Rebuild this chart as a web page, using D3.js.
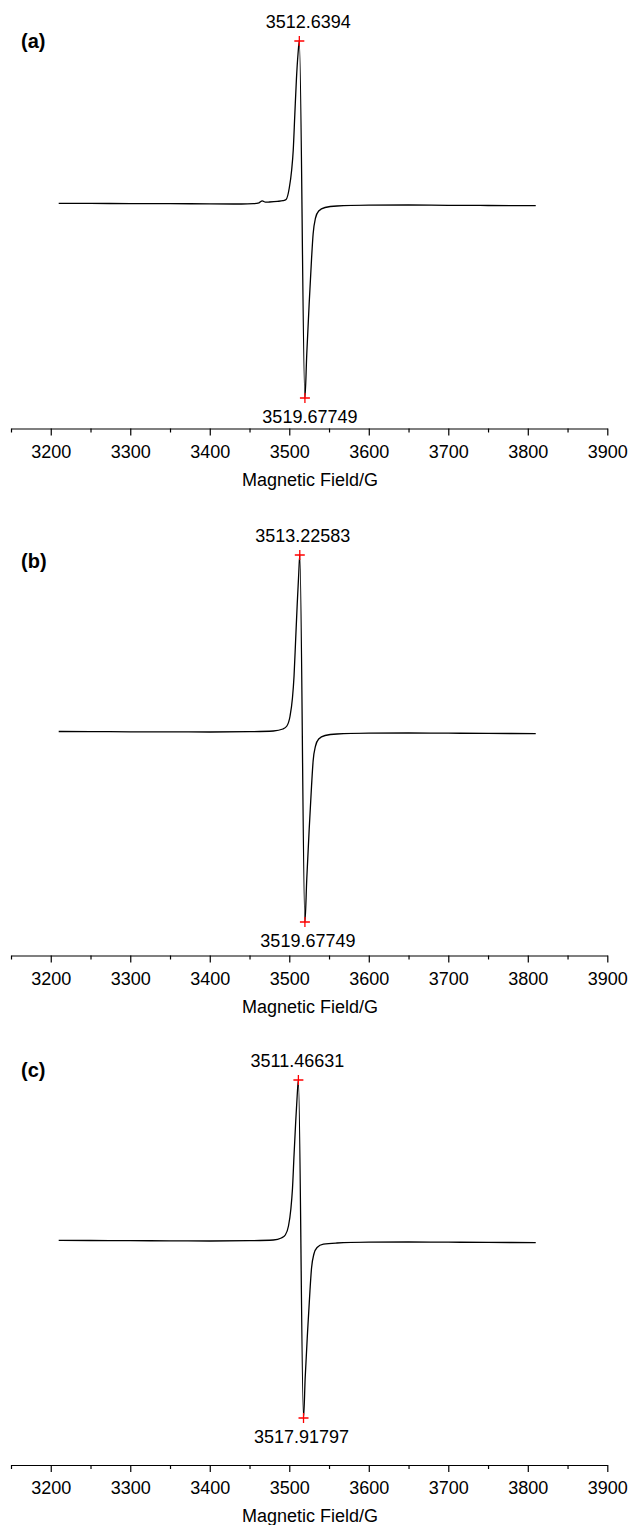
<!DOCTYPE html>
<html>
<head>
<meta charset="utf-8">
<script src="https://cdn.jsdelivr.net/npm/d3@7"></script>
<style>
  body { margin: 0; background: #fff; }
  svg text { font-family: "Liberation Sans", Arial, sans-serif; fill: #000; }
</style>
</head>
<body>
<svg id="chart"></svg>
<script>
// Declaring all constants
const svgWidth = 630,
    svgHeight = 1525;

const majorTicks = [3200, 3300, 3400, 3500, 3600, 3700, 3800, 3900];
const minorTicks = [3150, 3250, 3350, 3450, 3550, 3650, 3750, 3850];
const xLabel = "Magnetic Field/G";

// spectrum (a): field in G, signal in a.u. (baseline ~0)
const fieldA  = [3210, 3250, 3300, 3350, 3400, 3440, 3455, 3462, 3466, 3470, 3475, 3485, 3492, 3496, 3500, 3503, 3505, 3507, 3509, 3511, 3512.6394,
                 3519.67749, 3522, 3525, 3528, 3530, 3533, 3537, 3545, 3560, 3600, 3650, 3700, 3750, 3810];
const signalA = [0.7, 0.6, 0.4, 0.3, 0.2, 0.0, 0.3, 1.2, 3.2, 1.8, 2.0, 2.6, 3.3, 4.5, 16, 34, 54, 90, 125, 150, 163,
                 -194, -150, -100, -55, -30, -14, -7, -3.5, -2, -1.2, -1.0, -1.3, -1.5, -1.7];

// spectrum (b)
const fieldB  = [3210, 3250, 3300, 3350, 3400, 3450, 3480, 3492, 3497, 3501, 3504, 3506, 3508, 3510, 3512, 3513.22583,
                 3519.67749, 3522, 3525, 3528, 3530, 3533, 3537, 3545, 3560, 3600, 3650, 3700, 3750, 3810];
const signalB = [0.5, 0.4, 0.2, 0.1, 0.0, 0.3, 1.0, 3.0, 6, 16, 34, 56, 92, 128, 160, 177,
                 -190, -147, -98, -54, -29, -14, -7, -3.5, -2, -1.2, -1.0, -1.2, -1.4, -1.6];

// spectrum (c)
const fieldC  = [3210, 3250, 3300, 3350, 3400, 3450, 3480, 3490, 3495, 3499, 3502, 3504, 3506, 3508, 3510, 3511.46631,
                 3517.91797, 3520, 3523, 3526, 3528, 3531, 3535, 3543, 3560, 3600, 3650, 3700, 3750, 3810];
const signalC = [0.6, 0.5, 0.3, 0.2, 0.0, 0.3, 1.0, 3.0, 6, 15, 32, 52, 86, 118, 146, 161,
                 -177, -137, -91, -50, -27, -13, -6.5, -3.2, -2, -1.2, -1.0, -1.2, -1.4, -1.6];

const panelNames = ["(a)", "(b)", "(c)"];
const peakFields  = [[3512.6394, 3519.67749], [3513.22583, 3519.67749], [3511.46631, 3517.91797]];
const peakLabels  = [["3512.6394", "3519.67749"], ["3513.22583", "3519.67749"], ["3511.46631", "3517.91797"]];

// layout of each graph (pixels, page coords)
const panels = [
    {field: fieldA, signal: signalA, axisY: 428.5, letterY: 48, yDomain: [-194, 163], yRange: [398, 41], labelDx: [9, 5]},
    {field: fieldB, signal: signalB, axisY: 955.5, letterY: 568, yDomain: [-190, 177], yRange: [922, 555], labelDx: [3, 3]},
    {field: fieldC, signal: signalC, axisY: 1465, letterY: 1077, yDomain: [-177, 161], yRange: [1418, 1080], labelDx: [-1, -2]}
];

const chart = d3.select('#chart')
    .attr("width", svgWidth)
    .attr("height", svgHeight);

var xScale = d3.scaleLinear().domain([3150, 3900]).range([11, 607.3]);

panels.forEach(function(p, i){
    var yScale = d3.scaleLinear().domain(p.yDomain).range(p.yRange);
    var g = chart.append("g").attr("class", "panel");

    // bottom axis, major + minor ticks
    var xAxis = d3.axisBottom(xScale).tickValues(majorTicks).tickFormat(d3.format("d"))
        .tickSize(7).tickSizeOuter(0).tickPadding(0);
    var minorAxis = d3.axisBottom(xScale).tickValues(minorTicks).tickSize(4).tickSizeOuter(0).tickFormat("");

    var ax = g.append("g").attr("transform", "translate(0," + p.axisY + ")").call(xAxis);
    ax.selectAll("text").style("font-size", "18px").attr("y", 29).attr("dy", null);
    ax.selectAll("path, line").attr("stroke", "#000").attr("stroke-width", 1.2);
    var mx = g.append("g").attr("transform", "translate(0," + p.axisY + ")").call(minorAxis);
    mx.select(".domain").remove();
    mx.selectAll("line").attr("stroke", "#000").attr("stroke-width", 1.2);

    g.append("text")
        .attr("x", 310)
        .attr("y", p.axisY + 57)
        .attr("text-anchor", "middle")
        .style("font-size", "18px")
        .text(xLabel);

    // panel letter
    g.append("text")
        .attr("x", 21)
        .attr("y", p.letterY)
        .style("font-size", "20px")
        .style("font-weight", "bold")
        .text(panelNames[i]);

    // spectrum line
    var pts = p.field.map(function(f, k){ return {x: f, y: p.signal[k]}; });
    var line = d3.line()
        .x(function(d){ return xScale(d.x); })
        .y(function(d){ return yScale(d.y); })
        .curve(d3.curveMonotoneX);
    g.append("path")
        .datum(pts)
        .attr("d", line)
        .attr("fill", "none")
        .attr("stroke", "#000")
        .attr("stroke-width", 1.3);

    // peak markers
    var peaks = [
        {x: peakFields[i][0], y: p.yDomain[1], label: peakLabels[i][0], dx: p.labelDx[0], dy: -13},
        {x: peakFields[i][1], y: p.yDomain[0], label: peakLabels[i][1], dx: p.labelDx[1], dy: 24.5}
    ];
    peaks.forEach(function(pk){
        var cx = xScale(pk.x), cy = yScale(pk.y);
        g.append("path")
            .attr("d", "M" + (cx - 5) + "," + cy + "H" + (cx + 5) + "M" + cx + "," + (cy - 5) + "V" + (cy + 5))
            .attr("stroke", "red")
            .attr("stroke-width", 1.3);
        g.append("text")
            .attr("x", cx + pk.dx)
            .attr("y", cy + pk.dy)
            .attr("text-anchor", "middle")
            .style("font-size", "18px")
            .text(pk.label);
    });
});
</script>
</body>
</html>
